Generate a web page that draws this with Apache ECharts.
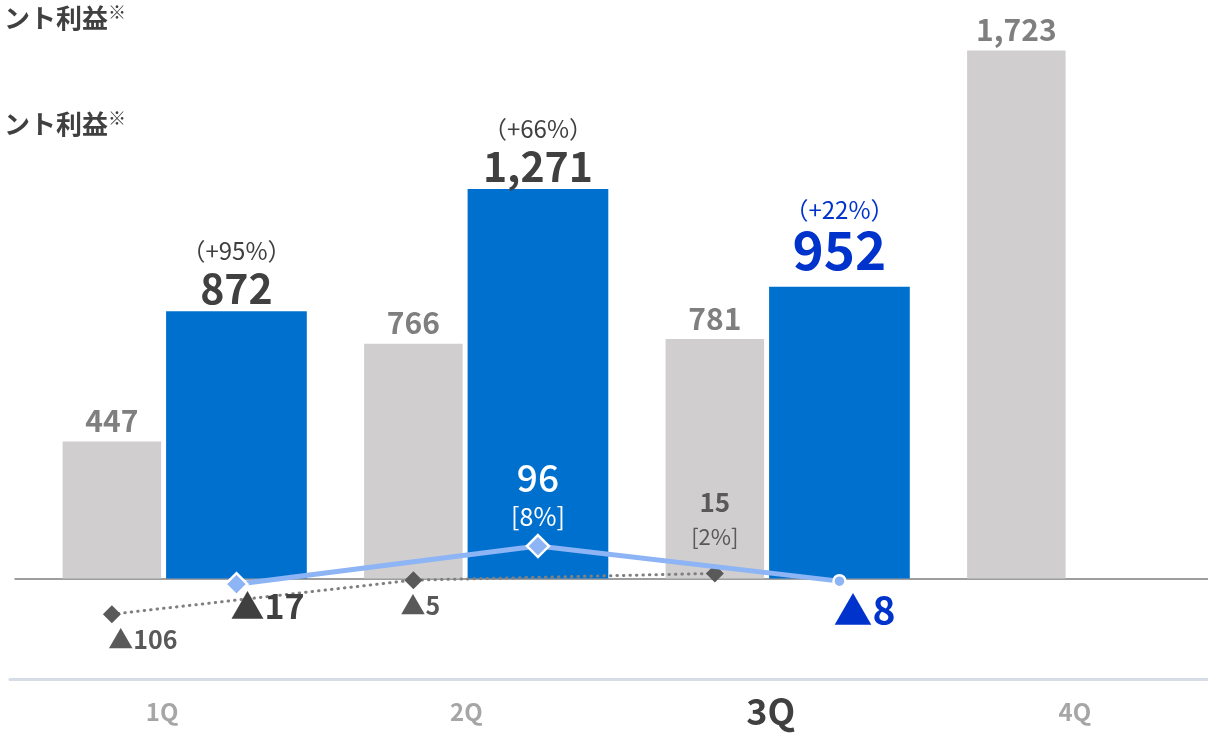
<!DOCTYPE html>
<html>
<head>
<meta charset="utf-8">
<script src="https://cdn.jsdelivr.net/npm/echarts@6/dist/echarts.min.js"></script>
<style>
  html, body { margin: 0; padding: 0; background: #ffffff; }
  #chart { width: 1208px; height: 739px; }
</style>
</head>
<body>
<div id="chart"></div>
<script>
// Quarterly sales (bars) and segment profit (lines): prior year vs current year
const categories = ['1Q', '2Q', '3Q', '4Q'];
const priorSales = [447, 766, 781, 1723];
const currentSales = [872, 1271, 952, null];
const salesGrowthPct = [95, 66, 22, null];
const priorProfit = [-106, -5, 15, null];
const currentProfit = [-17, 96, -8, null];
const priorMarginPct = [null, null, 2, null];
const currentMarginPct = [null, 8, null, null];
const currentQuarter = 2;

const FONT = '"Noto Sans CJK JP", "Noto Sans", sans-serif';
const DARK = '#404040';
const GRAY_TXT = '#7f7f7f';
const MARK_GRAY = '#595959';
const BLUE_TXT = '#0033cc';
const BAR_GRAY = '#d0cece';
const BAR_BLUE = '#0070ce';
const LINE_BLUE = '#8db4f4';

// plot geometry
const TOP = 26.8, HEIGHT = 652.8;
const SALES_Y = { min: -330, max: 1800 };
const PROFIT_Y = { min: -300, max: 1636 };
const BAR_LEFT = 33.95, BAR_SPAN = 1206;
const GRAY_W = 98.5, BLUE_W = 140.7, GAP = 5;
const gapPct = GAP / GRAY_W;
// bar centres relative to the category centre, same arithmetic as the bar layout
const groupW = GRAY_W * (1 + gapPct) + BLUE_W;
const grayShift = -groupW / 2 + GRAY_W / 2;
const blueShift = -groupW / 2 + GRAY_W * (1 + gapPct) + BLUE_W / 2;

const fmt = v => v.toLocaleString('en-US');
const tri = v => (v < 0 ? '\u25B2' + Math.abs(v) : String(v));

const gridAt = left => ({ left: left, top: TOP, width: BAR_SPAN, height: HEIGHT, outerBoundsMode: 'none', containLabel: false });
const hiddenX = g => ({ type: 'category', gridIndex: g, data: categories, show: false });
const hiddenY = (g, r) => ({ type: 'value', gridIndex: g, min: r.min, max: r.max, show: false, splitLine: { show: false } });

// blue bars: growth rate above the value
const currentBarData = currentSales.map((v, i) => {
  if (v == null) return null;
  const hi = i === currentQuarter;
  return {
    value: v,
    label: {
      distance: hi ? 9 : 0,
      formatter: hi
        ? `{pctHi|（+${salesGrowthPct[i]}%）}\n{valHi|${fmt(v)}}`
        : `{pct|（+${salesGrowthPct[i]}%）}\n{val|${fmt(v)}}`
    }
  };
});

// profit point labels
const priorLabelPos = [[31, 25], [7, 25], [0, -52], [0, 0]];
const priorProfitData = priorProfit.map((v, i) => {
  if (v == null) return null;
  const m = priorMarginPct[i];
  return {
    value: v,
    label: {
      show: true,
      position: 'inside',
      offset: priorLabelPos[i],
      formatter: m == null ? `{neg|${tri(v)}}` : `{v|${tri(v)}}\n{m|[${m}%]}`
    }
  };
});

const currentLabelPos = [[31, 22], [0, -49], [25, 29], [0, 0]];
const currentProfitData = currentProfit.map((v, i) => {
  if (v == null) return null;
  const m = currentMarginPct[i];
  const hi = i === currentQuarter;
  return {
    value: v,
    symbol: hi ? 'circle' : 'diamond',
    symbolSize: hi ? 12 : 22,
    label: {
      show: true,
      position: 'inside',
      offset: currentLabelPos[i],
      formatter: m != null
        ? `{v|${tri(v)}}\n{m|[${m}%]}`
        : (hi ? `{negHi|${tri(v)}}` : `{neg|${tri(v)}}`)
    }
  };
});

const chart = echarts.init(document.getElementById('chart'), null, { renderer: 'canvas' });

chart.setOption({
  animation: false,
  backgroundColor: '#ffffff',
  textStyle: { fontFamily: FONT },
  grid: [
    { left: 10, top: TOP, width: 1217, height: HEIGHT, outerBoundsMode: 'none', containLabel: false },   // quarter labels
    gridAt(BAR_LEFT),                                        // bars
    gridAt(BAR_LEFT + grayShift),                            // prior-year profit
    gridAt(BAR_LEFT + blueShift),                            // current-year profit
    { left: 15, right: 0, top: TOP, height: HEIGHT, outerBoundsMode: 'none', containLabel: false }   // zero line
  ],
  xAxis: [
    {
      type: 'category',
      gridIndex: 0,
      data: categories,
      axisLine: { show: true, onZero: false, lineStyle: { color: '#d6dce5', width: 3 } },
      axisTick: { show: false },
      splitLine: { show: false },
      axisLabel: {
        margin: 32,
        verticalAlign: 'middle',
        formatter: (v, i) => (i === currentQuarter ? `{cur|${v}}` : `{std|${v}}`),
        rich: {
          cur: { fontSize: 36, fontWeight: 'bold', color: DARK, fontFamily: FONT },
          std: { fontSize: 24, fontWeight: 'bold', color: '#a6a6a6', fontFamily: FONT }
        }
      }
    },
    hiddenX(1),
    hiddenX(2),
    hiddenX(3),
    {
      type: 'category',
      gridIndex: 4,
      data: categories,
      axisLine: { show: true, onZero: true, lineStyle: { color: '#7f7f7f', width: 1.5 } },
      axisTick: { show: false },
      axisLabel: { show: false },
      splitLine: { show: false }
    }
  ],
  yAxis: [
    hiddenY(0, SALES_Y),
    hiddenY(1, SALES_Y),
    hiddenY(2, PROFIT_Y),
    hiddenY(3, PROFIT_Y),
    hiddenY(4, SALES_Y)
  ],
  series: [
    {
      name: 'prior sales',
      type: 'bar',
      xAxisIndex: 1,
      yAxisIndex: 1,
      data: priorSales,
      barWidth: GRAY_W,
      barGap: (gapPct * 100) + '%',
      itemStyle: { color: BAR_GRAY },
      z: 2,
      label: {
        show: true,
        position: 'top',
        distance: 6,
        formatter: p => fmt(p.value),
        fontSize: 30,
        fontWeight: 'bold',
        color: GRAY_TXT,
        fontFamily: FONT
      }
    },
    {
      name: 'current sales',
      type: 'bar',
      xAxisIndex: 1,
      yAxisIndex: 1,
      data: currentBarData,
      barWidth: BLUE_W,
      itemStyle: { color: BAR_BLUE },
      z: 2,
      label: {
        show: true,
        position: 'top',
        fontFamily: FONT,
        rich: {
          pct: { fontSize: 24, color: DARK, lineHeight: 28, fontFamily: FONT },
          val: { fontSize: 41, fontWeight: 'bold', color: DARK, lineHeight: 46, fontFamily: FONT },
          pctHi: { fontSize: 24, color: BLUE_TXT, lineHeight: 24, fontFamily: FONT },
          valHi: { fontSize: 53, fontWeight: 'bold', color: BLUE_TXT, lineHeight: 56, fontFamily: FONT }
        }
      }
    },
    {
      name: 'prior profit',
      type: 'line',
      xAxisIndex: 2,
      yAxisIndex: 2,
      data: priorProfitData,
      symbol: 'diamond',
      symbolSize: 18,
      z: 3,
      itemStyle: { color: MARK_GRAY },
      lineStyle: { color: '#808080', width: 3, type: [0.5, 6], cap: 'round' },
      label: {
        fontFamily: FONT,
        rich: {
          neg: { fontSize: 25, fontWeight: 'bold', color: MARK_GRAY, fontFamily: FONT },
          v: { fontSize: 26, fontWeight: 'bold', color: MARK_GRAY, lineHeight: 30, fontFamily: FONT },
          m: { fontSize: 22, color: MARK_GRAY, lineHeight: 39, fontFamily: FONT }
        }
      }
    },
    {
      name: 'current profit',
      type: 'line',
      xAxisIndex: 3,
      yAxisIndex: 3,
      data: currentProfitData,
      z: 4,
      itemStyle: { color: LINE_BLUE, borderColor: '#ffffff', borderWidth: 2.5 },
      lineStyle: { color: LINE_BLUE, width: 5 },
      label: {
        fontFamily: FONT,
        rich: {
          neg: { fontSize: 34, fontWeight: 'bold', color: DARK, fontFamily: FONT },
          negHi: { fontSize: 39, fontWeight: 'bold', color: BLUE_TXT, fontFamily: FONT },
          v: { fontSize: 37, fontWeight: 500, color: '#ffffff', lineHeight: 38, fontFamily: FONT },
          m: { fontSize: 25, color: '#ffffff', lineHeight: 38, fontFamily: FONT }
        }
      }
    }
  ],
  graphic: [
    {
      type: 'text', x: 4, y: 18,
      style: {
        text: '{a|ント利益}{b|※}',
        verticalAlign: 'middle',
        rich: {
          a: { fontSize: 26, fontWeight: 'bold', fill: DARK, fontFamily: FONT },
          b: { fontSize: 18, fill: DARK, fontFamily: FONT, padding: [0, 0, 12, 0] }
        }
      }
    },
    {
      type: 'text', x: 4, y: 124,
      style: {
        text: '{a|ント利益}{b|※}',
        verticalAlign: 'middle',
        rich: {
          a: { fontSize: 26, fontWeight: 'bold', fill: DARK, fontFamily: FONT },
          b: { fontSize: 18, fill: DARK, fontFamily: FONT, padding: [0, 0, 12, 0] }
        }
      }
    }
  ]
});
</script>
</body>
</html>
